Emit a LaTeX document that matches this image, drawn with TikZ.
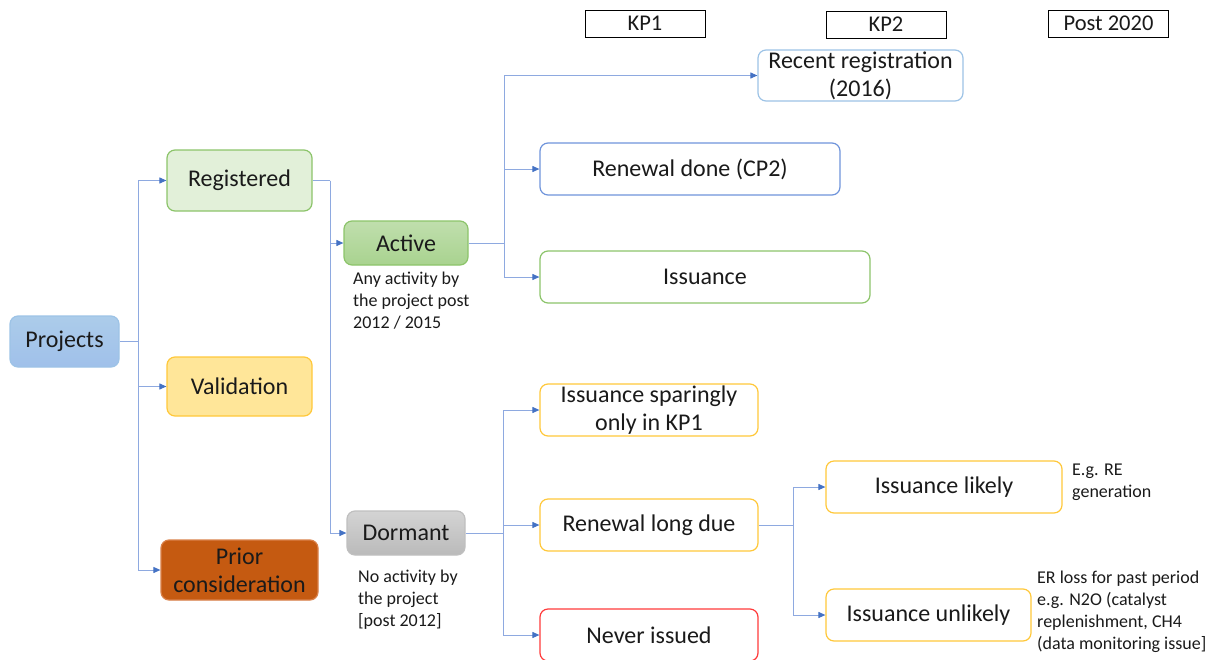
\documentclass[tikz,border=0pt]{standalone}
\usepackage{fontspec}
\setmainfont{Carlito}
\usetikzlibrary{arrows.meta}
\definecolor{txt}{HTML}{1A1A1A}
\definecolor{lnc}{HTML}{8EA9E0}
\definecolor{arc}{HTML}{4472C4}
\definecolor{bluebd}{HTML}{6F94DB}
\definecolor{ltbluebd}{HTML}{9DC3E6}
\definecolor{greenbd}{HTML}{8CC46A}
\definecolor{yellowbd}{HTML}{FFC83A}
\definecolor{redbd}{HTML}{FF3B3B}
\definecolor{regfill}{HTML}{E2F0D9}
\definecolor{valfill}{HTML}{FFE699}
\definecolor{priorfill}{HTML}{C55A11}
\definecolor{priorbd}{HTML}{D9814A}
\begin{document}
\begin{tikzpicture}[x=1pt,y=-1pt,
  bx/.style={draw, rounded corners=8pt, line width=1.2pt, inner sep=0pt, align=center,
    text=txt, font=\fontsize{24}{28}\selectfont},
  hdr/.style={draw=black, line width=0.9pt, inner sep=0pt, minimum width=120pt, minimum height=27pt,
    text=txt, font=\fontsize{22.5}{26}\selectfont},
  note/.style={anchor=north west, align=left, inner sep=0pt, text=txt,
    font=\fontsize{18}{21.8}\selectfont},
  ln/.style={draw=lnc, line width=1pt},
  arr/.style={draw=lnc, line width=1pt, -{Triangle[length=7pt,width=6pt,color=arc]}}
]
\useasboundingbox (0,0) rectangle (1213,659);

% headers
\node[hdr] (kp1) at (645,23.5) {KP1};
\node[hdr] (kp2) at (886,24.5) {KP2};
\node[hdr] (p20) at (1108.5,23.5) {Post 2020};

% left column
\node[bx, draw=ltbluebd, top color=ltbluebd!85, bottom color=ltbluebd!95!blue!90, minimum width=109pt, minimum height=51pt] (proj) at (64.5,341.5) {Projects};
\node[bx, draw=greenbd, fill=regfill, minimum width=145pt, minimum height=61pt] (reg) at (239.5,180.5) {Registered};
\node[bx, draw=yellowbd, fill=valfill, minimum width=145pt, minimum height=59pt] (val) at (239.5,386.5) {Validation};
\node[bx, draw=priorbd, fill=priorfill, minimum width=157pt, minimum height=60pt] (prior) at (239.5,570) {Prior\\consideration};

% second column
\node[bx, draw=greenbd, top color=greenbd!55, bottom color=greenbd!75, minimum width=124pt, minimum height=44pt] (act) at (406,243) {Active};
\node[bx, draw=black!25, top color=black!17, bottom color=black!27, minimum width=118pt, minimum height=44pt] (dor) at (406,533) {Dormant};
\node[note] (actn) at (353,272) {Any activity by\\the project post\\2012 / 2015};
\node[note] (dorn) at (358,570) {No activity by\\the project\\{[post 2012]}};

% third column
\node[bx, draw=ltbluebd, fill=white, minimum width=205pt, minimum height=51pt] (rec) at (860.5,75.5) {Recent registration\\(2016)};
\node[bx, draw=bluebd, fill=white, minimum width=300pt, minimum height=52pt] (rdone) at (690,169) {Renewal done (CP2)};
\node[bx, draw=greenbd, fill=white, minimum width=330pt, minimum height=52pt] (iss) at (705,277) {Issuance};
\node[bx, draw=yellowbd, fill=white, minimum width=218pt, minimum height=52pt] (spar) at (649,410) {Issuance sparingly\\only in KP1};
\node[bx, draw=yellowbd, fill=white, minimum width=218pt, minimum height=52pt] (rld) at (649,525) {Renewal long due};
\node[bx, draw=redbd, fill=white, minimum width=218pt, minimum height=52pt] (nev) at (649,635) {Never issued};

% fourth column
\node[bx, draw=yellowbd, fill=white, minimum width=236pt, minimum height=52pt] (lik) at (944,487) {Issuance likely};
\node[bx, draw=yellowbd, fill=white, minimum width=205pt, minimum height=52pt] (unl) at (928.5,615) {Issuance unlikely};
\node[note] (likn) at (1072,464) {E.g. RE\\generation};
\node[note] (unln) at (1037,571) {ER loss for past period\\e.g. N2O (catalyst\\replenishment, CH4\\(data monitoring issue]};

% connectors
\coordinate (j1) at (138,341.5);
\draw[ln] (proj.east) -- (j1);
\draw[arr] (j1) |- (reg.west);
\draw[arr] (j1) |- (val.west);
\draw[arr] (j1) |- (prior.west);

\coordinate (j2) at (330,180.5);
\draw[ln] (reg.east) -- (j2);
\draw[arr] (j2) |- (act.west);
\draw[arr] (j2) |- (dor.west);

\coordinate (j3) at (504,243);
\draw[ln] (act.east) -- (j3);
\draw[arr] (j3) |- (rec.west);
\draw[arr] (j3) |- (rdone.west);
\draw[arr] (j3) |- (iss.west);

\coordinate (j4) at (503,533);
\draw[ln] (dor.east) -- (j4);
\draw[arr] (j4) |- (spar.west);
\draw[arr] (j4) |- (rld.west);
\draw[arr] (j4) |- (nev.west);

\coordinate (j5) at (793,525);
\draw[ln] (rld.east) -- (j5);
\draw[arr] (j5) |- (lik.west);
\draw[arr] (j5) |- (unl.west);
\end{tikzpicture}
\end{document}
